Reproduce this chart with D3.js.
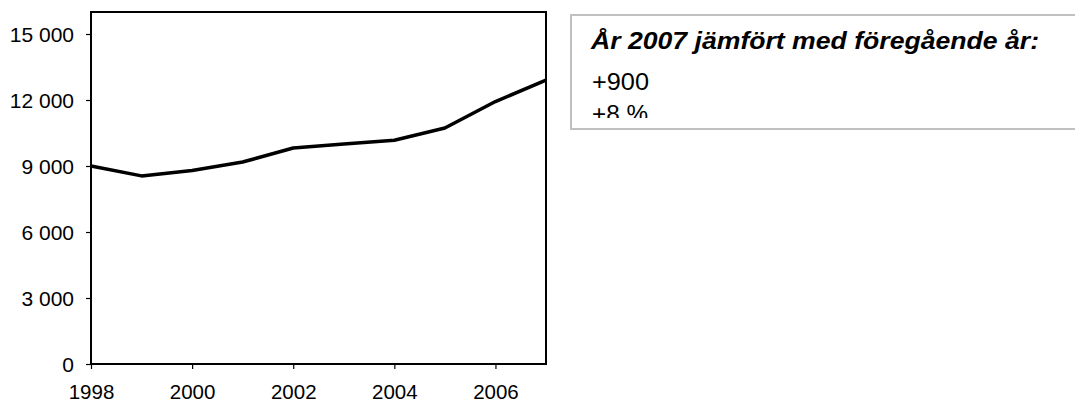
<!DOCTYPE html>
<html><head><meta charset="utf-8">
<script src="https://cdn.jsdelivr.net/npm/d3@7"></script>
<style>body{margin:0;background:#fff}svg{display:block}text{font-family:"Liberation Sans",Arial,sans-serif;fill:#000}</style>
</head><body><svg id="c" width="1075" height="403"></svg>
<script>
const years = [1998,1999,2000,2001,2002,2003,2004,2005,2006,2007];
const values = [9000,8550,8800,9180,9820,10000,10170,10730,11930,12900];
const yTicks = [0,3000,6000,9000,12000,15000];
const xTicks = [1998,2000,2002,2004,2006];
const boxTitle = "År 2007 jämfört med föregående år:";
const boxLines = ["+900","+8 %"];

const svg = d3.select("#c");
const L=91, R=546, T=12, B=364;
const x = d3.scaleLinear().domain([1998,2007]).range([L,R]);
const y = d3.scaleLinear().domain([0,16000]).range([B,T]);
const fmt = v => v===0 ? "0" : d3.format(",")(v).replace(/,/g," ");

svg.append("rect").attr("x",L).attr("y",T).attr("width",R-L).attr("height",B-T)
  .attr("fill","none").attr("stroke","#000").attr("stroke-width",2);

const ya = svg.append("g").attr("transform",`translate(${L},0)`)
  .call(d3.axisLeft(y).tickValues(yTicks).tickSize(5).tickPadding(12).tickFormat(fmt));
ya.select(".domain").remove();
ya.selectAll(".tick line").attr("stroke","#000").attr("stroke-width",1.2);
ya.selectAll("text").style("font-size","21px").attr("font-family","Liberation Sans, Arial, sans-serif").attr("fill","#000").attr("dy","0.36em");

const xa = svg.append("g").attr("transform",`translate(0,${B})`)
  .call(d3.axisBottom(x).tickValues(xTicks).tickSize(5).tickPadding(0).tickFormat(d3.format("d")));
xa.select(".domain").remove();
xa.selectAll(".tick line").attr("stroke","#000").attr("stroke-width",1.2);
xa.selectAll("text").style("font-size","20.5px").attr("font-family","Liberation Sans, Arial, sans-serif").attr("fill","#000").attr("dy",null).attr("y",35);

svg.append("path").datum(years.map((yr,i)=>[yr,values[i]]))
  .attr("fill","none").attr("stroke","#000").attr("stroke-width",3.5).attr("stroke-linejoin","round")
  .attr("d",d3.line().x(d=>x(d[0])).y(d=>y(d[1])));

const bx=571, by=15, bb=129;
svg.append("defs").append("clipPath").attr("id","clipbox").append("rect")
  .attr("x",bx).attr("y",by).attr("width",1075-bx).attr("height",118-by);
svg.append("rect").attr("x",bx).attr("y",by).attr("width",1075-bx+10).attr("height",bb-by)
  .attr("fill","#fff").attr("stroke","#c0c0c0").attr("stroke-width",2);
const tg = svg.append("g").attr("clip-path","url(#clipbox)");
tg.append("text").attr("x",591).attr("y",49).text(boxTitle)
  .style("font-size","23px").style("font-weight","bold").style("font-style","italic")
  .attr("textLength",448).attr("lengthAdjust","spacingAndGlyphs");
const lineW=[57,56];
boxLines.forEach((t,i)=>{
  tg.append("text").attr("x",592).attr("y",90+i*32).text(t).style("font-size","23.5px")
    .attr("textLength",lineW[i]).attr("lengthAdjust","spacingAndGlyphs");
});
</script></body></html>
